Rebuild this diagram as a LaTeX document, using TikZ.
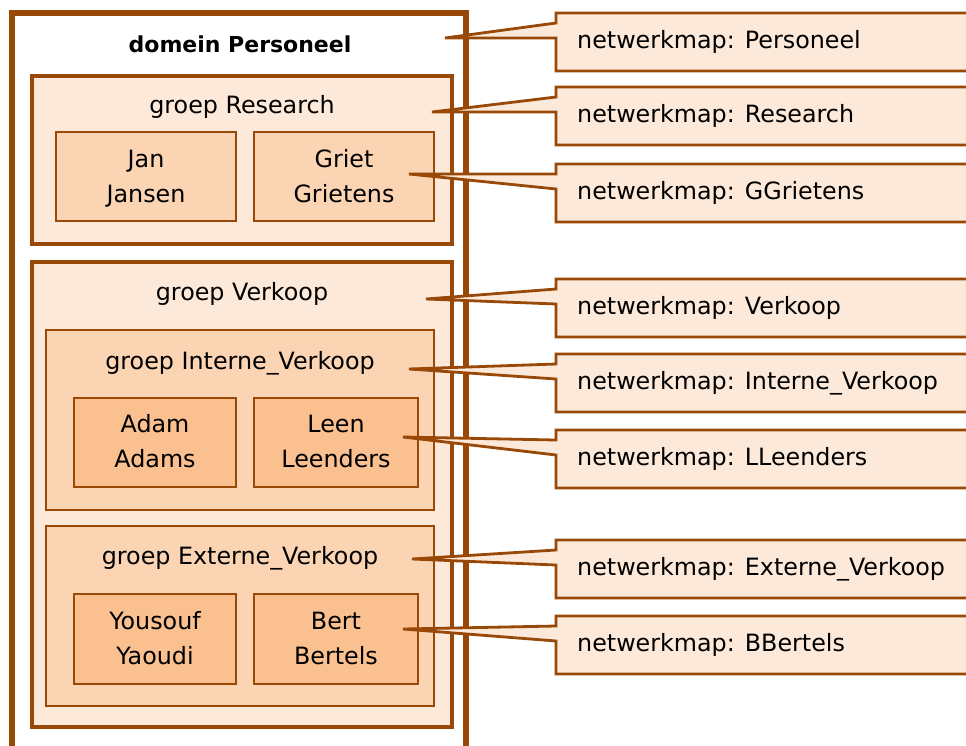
\documentclass[tikz,border=0pt]{standalone}
\usepackage{fontspec}
\setmainfont{DejaVu Sans}
\usetikzlibrary{calc}

\definecolor{rim}{RGB}{152,72,7}
\definecolor{peachA}{RGB}{253,233,217}
\definecolor{peachB}{RGB}{251,212,180}
\definecolor{peachC}{RGB}{250,192,144}

\tikzset{
  box/.style={draw=rim, rectangle, inner sep=0pt, outer sep=0pt},
  domainbox/.style={box, fill=white, line width=5.5pt},
  groupbox/.style={box, fill=peachA, line width=3.6pt},
  subgroupbox/.style={box, fill=peachB, line width=2.8pt},
  memberA/.style={box, fill=peachB, line width=2.8pt},
  memberB/.style={box, fill=peachC, line width=2.8pt},
  lbl/.style={inner sep=0pt, anchor=base, font=\fontsize{23.8}{35}\selectfont},
  calloutshape/.style={draw=rim, fill=peachA, line width=2.8pt, line join=miter},
  callouttext/.style={inner sep=0pt, anchor=base west, font=\fontsize{23.8}{35}\selectfont},
}

% #1 name, #2 top edge, #3 tip, #4 text
\newcommand{\netcallout}[4]{%
  \coordinate (#1-tip) at #3;
  \draw[calloutshape] (556,#2) -- (990,#2) -- (990,#2+58) -- (556,#2+58)
    -- (556,#2+25) -- (#1-tip) -- (556,#2+10) -- cycle;
  \node[callouttext] (#1) at (577,#2+35) {#4};
}

\begin{document}
\begin{tikzpicture}[x=1pt,y=-1pt]
\useasboundingbox (0,0) rectangle (966,745);

% domain
\node[domainbox, minimum width=454pt, minimum height=760pt, anchor=north west] (domein) at (12,13) {};
\node[lbl, font=\fontsize{22}{35}\selectfont\bfseries] (domeinlbl) at (240,52) {domein Personeel};

% group Research
\node[groupbox, minimum width=420pt, minimum height=168pt, anchor=north west] (research) at (32,76) {};
\node[lbl] (researchlbl) at (242,113) {groep Research};
\node[memberA, minimum width=180pt, minimum height=89pt, anchor=north west] (jan) at (56,132) {};
\node[lbl, align=center] (janlbl) at (146,202) {Jan\\Jansen};
\node[memberA, minimum width=180pt, minimum height=89pt, anchor=north west] (griet) at (254,132) {};
\node[lbl, align=center] (grietlbl) at (344,202) {Griet\\Grietens};

% group Verkoop
\node[groupbox, minimum width=420pt, minimum height=465pt, anchor=north west] (verkoop) at (32,262) {};
\node[lbl] (verkooplbl) at (242,300) {groep Verkoop};

\node[subgroupbox, minimum width=388pt, minimum height=180pt, anchor=north west] (intern) at (46,330) {};
\node[lbl] (internlbl) at (240,369) {groep Interne\_Verkoop};
\node[memberB, minimum width=162pt, minimum height=89pt, anchor=north west] (adam) at (74,398) {};
\node[lbl, align=center] (adamlbl) at (155,467) {Adam\\Adams};
\node[memberB, minimum width=164pt, minimum height=89pt, anchor=north west] (leen) at (254,398) {};
\node[lbl, align=center] (leenlbl) at (336,467) {Leen\\Leenders};

\node[subgroupbox, minimum width=388pt, minimum height=180pt, anchor=north west] (extern) at (46,526) {};
\node[lbl] (externlbl) at (240,564) {groep Externe\_Verkoop};
\node[memberB, minimum width=162pt, minimum height=90pt, anchor=north west] (yousouf) at (74,594) {};
\node[lbl, align=center] (yousouflbl) at (155,664) {Yousouf\\Yaoudi};
\node[memberB, minimum width=164pt, minimum height=90pt, anchor=north west] (bert) at (254,594) {};
\node[lbl, align=center] (bertlbl) at (336,664) {Bert\\Bertels};

% network folder callouts
\netcallout{cPersoneel}{13}{(445,38)}{netwerkmap: Personeel}
\netcallout{cResearch}{87}{(432,112)}{netwerkmap: Research}
\netcallout{cGrietens}{164}{(409,174)}{netwerkmap: GGrietens}
\netcallout{cVerkoop}{279}{(426,299)}{netwerkmap: Verkoop}
\netcallout{cIntern}{354}{(409,369)}{netwerkmap: Interne\_Verkoop}
\netcallout{cLeenders}{430}{(403,437)}{netwerkmap: LLeenders}
\netcallout{cExtern}{540}{(412,559)}{netwerkmap: Externe\_Verkoop}
\netcallout{cBertels}{616}{(403,629)}{netwerkmap: BBertels}
\end{tikzpicture}
\end{document}
